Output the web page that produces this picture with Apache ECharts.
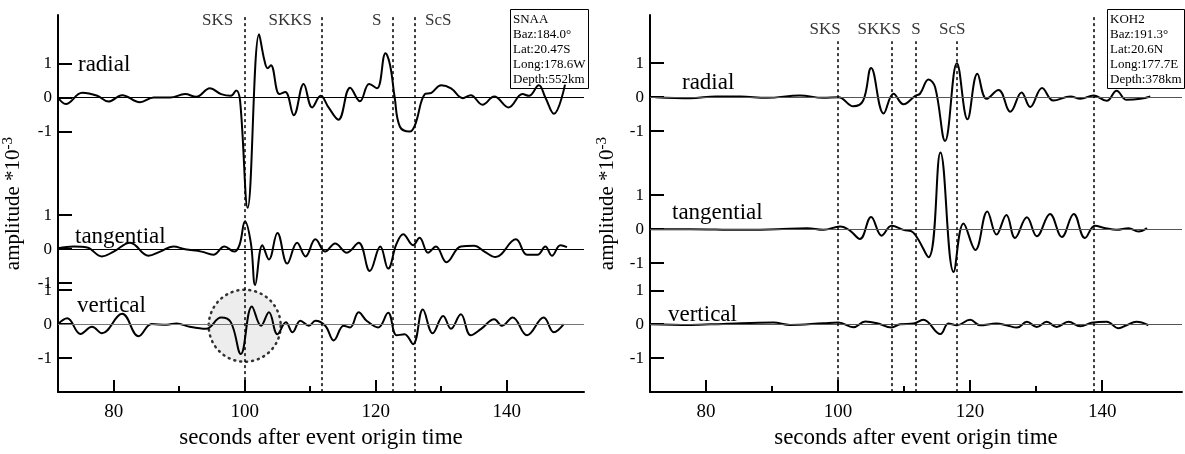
<!DOCTYPE html>
<html>
<head>
<meta charset="utf-8">
<script src="https://cdn.jsdelivr.net/npm/echarts@6/dist/echarts.min.js"></script>
<style>
  html, body { margin: 0; background: #fff; }
  #chart { width: 1185px; height: 454px; }
</style>
</head>
<body>
<div id="chart"></div>
<script>
// [seconds after origin, amplitude *10^-3]
const snaaRadial = [[71.5,0],[72.7,-0.19],[75.2,0.14],[77.5,0.05],[79.2,-0.12],[81.3,0.07],[84.0,-0.14],[86.1,0],[88.6,0],[90.9,0.1],[92.6,0.02],[94.7,0.27],[96.4,0.1],[97.9,0.05],[98.7,0.21],[99.3,-0.1],[100.45,-3.24],[102.2,1.86],[103.0,1.1],[103.5,0.86],[104.0,0.95],[105.3,0.1],[106.2,0.16],[107.5,-0.52],[109.0,0.4],[110.3,-0.29],[111.6,0.05],[112.8,-0.29],[114.3,-0.65],[116.1,0.29],[117.6,-0.11],[119.0,0.4],[120.2,0.27],[121.5,1.3],[122.2,0.95],[122.9,0],[123.7,-0.86],[125.2,-1.0],[126.0,-0.81],[127.5,0.1],[128.5,0.14],[130.0,0.36],[131.5,0.27],[133.3,-0.02],[134.5,0.07],[136.3,-0.21],[138.1,0.03],[140.3,-0.29],[142.4,0.1],[143.4,0.05],[144.9,0.36],[145.9,0],[147.2,-0.48],[148.9,0.38]];
const snaaTangential = [[71.5,0.03],[73.9,0.08],[75.95,0.05],[78.2,-0.21],[80.0,-0.07],[82.5,0.19],[85.3,-0.19],[87.1,-0.07],[89.1,0.08],[90.9,0],[93.4,-0.07],[95.2,-0.16],[96.9,0.08],[98.4,-0.07],[99.2,0.12],[100.05,0.82],[100.95,0.17],[101.6,-1.05],[102.7,0.12],[103.7,-0.3],[105.0,0.48],[106.5,-0.42],[108.0,0.19],[109.3,-0.21],[110.8,0.29],[112.3,-0.07],[113.8,0.17],[115.6,-0.1],[117.4,0.19],[119.1,-0.64],[120.7,0.08],[121.9,-0.57],[123.2,0.17],[124.2,0.44],[125.7,0.12],[126.7,0.34],[128.0,-0.1],[129.2,0.08],[130.8,-0.38],[133.0,0.08],[135.05,0.1],[136.6,-0.07],[138.3,-0.23],[141.4,0.29],[143.1,-0.16],[144.7,-0.16],[145.9,0.08],[146.9,-0.19],[148.2,0.12],[149.2,0.06]];
const snaaVertical = [[71.5,0],[72.9,0.17],[74.95,-0.29],[76.7,-0.08],[78.2,-0.27],[81.3,0.3],[83.8,-0.36],[85.8,0],[88.1,-0.02],[89.6,0.02],[91.6,-0.08],[94.1,-0.14],[96.4,0.19],[97.9,0.05],[99.4,-0.88],[101.1,0.52],[102.5,-0.05],[103.7,0.35],[105.0,-0.3],[106.3,0.05],[107.3,-0.24],[108.5,0.1],[109.8,-0.05],[110.8,0.1],[112.3,-0.05],[113.6,-0.48],[115.1,-0.05],[116.1,-0.1],[117.4,0.35],[118.6,0.1],[120.4,-0.1],[121.9,0.33],[123.2,-0.33],[124.4,-0.3],[125.7,-0.59],[127.2,0.43],[128.7,-0.27],[130.3,0.24],[131.5,-0.14],[133.0,0.29],[134.5,-0.33],[136.1,-0.14],[138.1,0.14],[139.3,-0.05],[140.9,0.19],[143.1,-0.33],[145.65,0.19],[147.2,-0.24],[148.7,0]];

const koh2Radial = [[72.3,0],[77.6,-0.03],[81.5,0.02],[85.2,0.02],[89.2,-0.02],[94.2,0.05],[97.7,-0.02],[100.05,0],[102.3,-0.27],[103.8,-0.1],[105.0,0.86],[106.9,-0.48],[108.4,0.1],[109.9,-0.21],[111.7,0.04],[112.4,0.1],[113.7,0.52],[114.7,0.29],[116.2,-1.29],[118.0,1.0],[119.6,-0.65],[121.1,0.69],[122.5,-0.05],[124.3,0.21],[126.1,-0.43],[127.8,0.14],[129.1,-0.29],[130.9,0.27],[132.6,-0.1],[135.2,0.02],[136.7,-0.05],[138.7,0.05],[140.7,-0.11],[142.2,0.19],[143.7,-0.08],[145.8,-0.05],[147.3,0.02]];
const koh2Tangential = [[71.5,0],[77.6,0],[85.2,-0.02],[90.7,0],[95.3,0.03],[97.8,-0.02],[100.3,0.08],[101.8,-0.04],[103.3,-0.29],[105.0,0.36],[106.6,-0.19],[108.1,0.1],[109.9,-0.02],[111.4,-0.1],[113.7,-0.83],[115.5,2.26],[117.5,-1.26],[119.0,0.17],[120.8,-0.61],[122.6,0.52],[124.0,-0.16],[125.5,0.42],[126.8,-0.26],[128.6,0.35],[130.1,-0.21],[132.1,0.45],[133.9,-0.23],[135.7,0.45],[137.4,-0.26],[138.9,0.1],[140.5,0.03],[142.2,-0.02],[144.0,0.03],[145.5,-0.07],[146.8,0.03]];
const koh2Vertical = [[71.5,0],[77.6,-0.02],[82.6,0.01],[90.2,0.05],[92.7,-0.02],[97.8,0.03],[100.05,0.05],[102.3,-0.09],[104.1,0.08],[105.9,0.03],[108.1,-0.1],[109.4,0],[111.4,0.02],[112.9,0.13],[115.5,-0.29],[116.7,0.02],[118.0,-0.03],[120.0,0.13],[121.5,-0.03],[124.0,0.02],[125.5,-0.03],[127.1,-0.1],[128.6,0.07],[130.1,-0.08],[131.6,0.07],[133.1,-0.08],[134.9,0.07],[136.7,-0.06],[138.4,0.04],[140.7,0.07],[142.5,-0.12],[143.7,-0.03],[145.2,0.07],[147.0,-0.03]];

const snaaPhaseNames = ['SKS', 'SKKS', 'S', 'ScS'];
const snaaPhaseTimes = [100.0, 111.7, 122.6, 125.9];
const koh2PhaseNames = ['SKS', 'SKKS', 'S', 'ScS', ''];
const koh2PhaseTimes = [100.0, 108.2, 111.8, 117.9, 138.8];

const xTickLabels = [80, 100, 120, 140];
const xMinorTicks = [90, 110, 130];
const ampTicks = [-1, 0, 1];

const snaaInfo = ['SNAA', 'Baz:184.0°', 'Lat:20.47S', 'Long:178.6W', 'Depth:552km'];
const koh2Info = ['KOH2', 'Baz:191.3°', 'Lat:20.6N', 'Long:177.7E', 'Depth:378km'];

// where each trace's zero sits on the stacked y axis (in amplitude units)
const snaaOffsets = { radial: 8.66, tangential: 4.2, vertical: 2.0 };
const koh2Offsets = { radial: 8.69, tangential: 4.8, vertical: 2.0 };

const serif = "'Liberation Serif', 'DejaVu Serif', serif";
const chart = echarts.init(document.getElementById('chart'));

function yTicks(offs) {
  const vals = [], labels = [];
  Object.values(offs).forEach(o => ampTicks.forEach(a => { vals.push(+(o + a).toFixed(3)); labels.push(String(a)); }));
  return { vals, labels };
}

function shift(data, off) {
  return data.map(d => [d[0], d[1] + off]);
}

function makeAxes(gi, offs, yMax, nameGap) {
  const yt = yTicks(offs);
  const x = {
    gridIndex: gi, type: 'value', position: 'bottom', min: 71.5, max: gi === 0 ? 151.8 : 152.1,
    axisLine: { lineStyle: { color: '#000', width: 2 } },
    axisTick: { inside: true, length: 12, lineStyle: { color: '#000', width: 2 }, customValues: xTickLabels },
    axisLabel: { customValues: xTickLabels, color: '#000', fontFamily: serif, fontSize: 19, margin: 10 },
    splitLine: { show: false },
    name: 'seconds after event origin time', nameLocation: 'middle', nameGap: 28,
    nameTextStyle: { color: '#000', fontFamily: serif, fontSize: 23 }
  };
  // second axis on the same line, just for the short ticks at 90/110/130
  const xMinor = {
    gridIndex: gi, type: 'value', position: 'bottom', min: x.min, max: x.max,
    axisLine: { show: false },
    axisTick: { show: true, inside: true, length: 6, lineStyle: { color: '#000', width: 2 }, customValues: xMinorTicks },
    axisLabel: { show: false }, splitLine: { show: false }
  };
  const y = {
    gridIndex: gi, type: 'value', min: 0, max: yMax,
    axisLine: { show: true, lineStyle: { color: '#000', width: 2 } },
    axisTick: { show: true, inside: true, length: 14, lineStyle: { color: '#000', width: 2 }, customValues: yt.vals },
    axisLabel: {
      customValues: yt.vals, color: '#000', fontFamily: serif, fontSize: 17, margin: 6,
      formatter: v => {
        const i = yt.vals.findIndex(t => Math.abs(t - v) < 1e-3);
        return i < 0 ? '' : yt.labels[i];
      }
    },
    splitLine: { show: false },
    name: 'amplitude *10{sup|-3}', nameLocation: 'middle', nameGap: nameGap,
    nameTextStyle: {
      color: '#000', fontFamily: serif, fontSize: 21,
      rich: { sup: { fontFamily: serif, fontSize: 15, color: '#000', verticalAlign: 'top', padding: [0, 0, 10, 0] } }
    }
  };
  return { x, xMinor, y };
}

function traceSeries(xi, yi, data, off, baseColor) {
  return {
    type: 'line', xAxisIndex: xi, yAxisIndex: yi, data: shift(data, off),
    showSymbol: false, symbol: 'none', smooth: 0.4, z: 3,
    lineStyle: { color: '#000', width: 2 },
    markLine: {
      silent: true, symbol: 'none', label: { show: false },
      lineStyle: { color: baseColor, width: 1.2, type: 'solid' },
      data: [{ yAxis: off }]
    }
  };
}

function phaseSeries(xi, yi, names, times, lineTops, labelY, labelDx) {
  return {
    type: 'scatter', xAxisIndex: xi, yAxisIndex: yi, symbolSize: 0, z: 4,
    data: times.map((t, i) => ({
      value: [t, labelY], name: names[i],
      label: { show: names[i] !== '', offset: [labelDx[i], 0] }
    })),
    label: { position: 'inside', formatter: p => p.name, color: '#000', fontFamily: serif, fontSize: 17 },
    markLine: {
      silent: true, symbol: 'none', label: { show: false },
      lineStyle: { color: '#000', width: 1.5, type: [3, 3] },
      data: times.map((t, i) => [{ coord: [t, 0] }, { coord: [t, lineTops[i]] }])
    }
  };
}

const left = makeAxes(0, snaaOffsets, 11.086, 32);
const right = makeAxes(1, koh2Offsets, 11.11, 30);

function traceName(text, l, t) {
  return { text, left: l, top: t, padding: 0, textStyle: { fontFamily: serif, fontSize: 23, fontWeight: 'normal', color: '#000', lineHeight: 24 } };
}
function infoBox(lines, l) {
  return {
    text: lines.join('\n'), left: l, top: 9, padding: [3, 3, 2, 3],
    borderColor: '#000', borderWidth: 1,
    textStyle: { fontFamily: serif, fontSize: 13, fontWeight: 'normal', color: '#000', lineHeight: 15 }
  };
}

chart.setOption({
  animation: false,
  backgroundColor: '#fff',
  title: [
    traceName('radial', 78, 53),
    traceName('tangential', 75, 225),
    traceName('vertical', 77, 294),
    traceName('radial', 682, 71),
    traceName('tangential', 672, 201),
    traceName('vertical', 668, 303),
    infoBox(snaaInfo, 510),
    infoBox(koh2Info, 1107)
  ],
  grid: [
    { left: 54, top: 15, width: 530, height: 388 },
    { left: 650, top: 15, width: 532, height: 389 }
  ],
  xAxis: [left.x, left.xMinor, right.x, right.xMinor],
  yAxis: [left.y, right.y],
  series: [
    {
      // highlighted SKS window on the vertical component
      type: 'scatter', xAxisIndex: 0, yAxisIndex: 0, z: 1, symbolSize: 72,
      data: [[100, snaaOffsets.vertical - 0.05]],
      itemStyle: { color: '#e8e8e8', borderColor: '#000', borderWidth: 2.5, borderType: [1, 5], borderCap: 'round' }
    },
    traceSeries(0, 0, snaaRadial, snaaOffsets.radial, '#000'),
    traceSeries(0, 0, snaaTangential, snaaOffsets.tangential, '#000'),
    traceSeries(0, 0, snaaVertical, snaaOffsets.vertical, '#777'),
    traceSeries(2, 1, koh2Radial, koh2Offsets.radial, '#555'),
    traceSeries(2, 1, koh2Tangential, koh2Offsets.tangential, '#555'),
    traceSeries(2, 1, koh2Vertical, koh2Offsets.vertical, '#555'),
    phaseSeries(0, 0, snaaPhaseNames, snaaPhaseTimes, [11.086, 11.086, 11.086, 11.086], 10.91, [-27, -31, -16, 24]),
    phaseSeries(2, 1, koh2PhaseNames, koh2PhaseTimes, [10.34, 10.34, 10.34, 10.34, 11.11], 10.69, [-13, -13, 0, -4, 0])
  ]
});
</script>
</body>
</html>
